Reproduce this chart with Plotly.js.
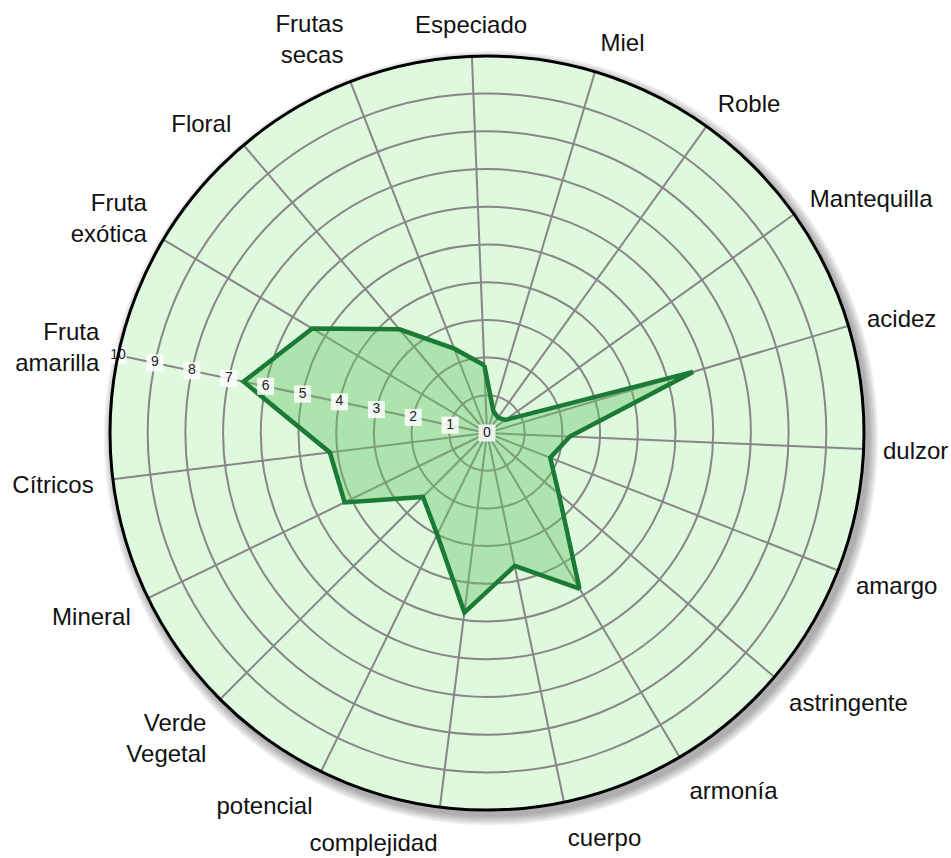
<!DOCTYPE html>
<html>
<head>
<meta charset="utf-8">
<script src="https://cdn.plot.ly/plotly-3.0.1.min.js"></script>
<style>
  html, body { margin: 0; padding: 0; background: #ffffff; }
  #chart { width: 951px; height: 858px; }
</style>
</head>
<body>
<div id="chart"></div>
<script>
// Categories (clockwise, starting at the top)
const categories = ['Especiado', 'Miel', 'Roble', 'Mantequilla', 'acidez', 'dulzor', 'amargo',
  'astringente', 'armonía', 'cuerpo', 'complejidad', 'potencial', 'Verde<br>Vegetal',
  'Mineral', 'Cítricos', 'Fruta<br>amarilla', 'Fruta<br>exótica', 'Floral', 'Frutas<br>secas'];

// Scores
const scores = [1.8, 0.6, 0.5, 0.6, 5.7, 2.2, 1.8, 2.5, 4.8, 3.6, 4.8, 3.0, 2.4, 4.2, 4.2, 6.6, 5.4, 3.6, 2.4];

// Radial scale labels (drawn along the "Fruta amarilla" spoke)
const radialTicks = [0, 1, 2, 3, 4, 5, 6, 7, 8, 9, 10];
const radialTickLabels = ['0', '1', '2', '3', '4', '5', '6', '7', '8', '9', '10'];
const radialLabelCategory = 'Fruta<br>amarilla';

const W = 951, H = 858;
const cx = 487, cy = 433, R = 377;

const traces = [
  {
    type: 'scatterpolar',
    r: scores.concat([scores[0]]),
    theta: categories.concat([categories[0]]),
    mode: 'lines',
    fill: 'toself',
    fillcolor: 'rgba(100,197,100,0.40)',
    line: { color: '#1b7a34', width: 4.5 },
    hoverinfo: 'skip',
    showlegend: false
  },
  {
    type: 'scatterpolar',
    r: radialTicks,
    theta: radialTicks.map(() => radialLabelCategory),
    mode: 'markers+text',
    text: radialTickLabels,
    textposition: 'middle center',
    textfont: { family: 'Liberation Sans, Arial, sans-serif', size: 14, color: '#222' },
    marker: { symbol: 'square', size: 17, color: 'rgba(255,255,255,0.85)', line: { width: 0 } },
    cliponaxis: false,
    hoverinfo: 'skip',
    showlegend: false
  }
];

// Soft drop shadow behind the disc
const shapes = [];
const shadowSteps = [10, 8, 6, 4, 2];
shadowSteps.forEach(d => {
  const sx = cx + 4, sy = cy + 5, sr = R + d;
  shapes.push({
    type: 'circle', xref: 'paper', yref: 'paper', layer: 'below',
    x0: (sx - sr) / W, x1: (sx + sr) / W,
    y0: 1 - (sy + sr) / H, y1: 1 - (sy - sr) / H,
    fillcolor: 'rgba(0,0,0,0.07)', line: { width: 0 }
  });
});

const layout = {
  width: W, height: H,
  margin: { l: 0, r: 0, t: 0, b: 0 },
  paper_bgcolor: '#ffffff',
  showlegend: false,
  shapes: shapes,
  font: { family: 'Liberation Sans, Arial, sans-serif', color: '#111' },
  polar: {
    domain: { x: [(cx - R) / W, (cx + R) / W], y: [1 - (cy + R) / H, 1 - (cy - R) / H] },
    bgcolor: '#def9de',
    angularaxis: {
      type: 'category',
      rotation: 92.3,
      direction: 'clockwise',
      showline: true,
      linecolor: '#000000',
      linewidth: 3,
      showgrid: true,
      gridcolor: '#878787',
      gridwidth: 2,
      ticks: 'outside',
      ticklen: 13,
      tickcolor: 'rgba(0,0,0,0)',
      tickfont: { family: 'Liberation Sans, Arial, sans-serif', size: 24, color: '#111' }
    },
    radialaxis: {
      range: [0, 10],
      dtick: 1,
      tick0: 0,
      angle: 168.1,
      showticklabels: false,
      ticks: '',
      showline: false,
      showgrid: true,
      gridcolor: '#878787',
      gridwidth: 2
    }
  }
};

Plotly.newPlot('chart', traces, layout, { displayModeBar: false, staticPlot: true });
</script>
</body>
</html>
